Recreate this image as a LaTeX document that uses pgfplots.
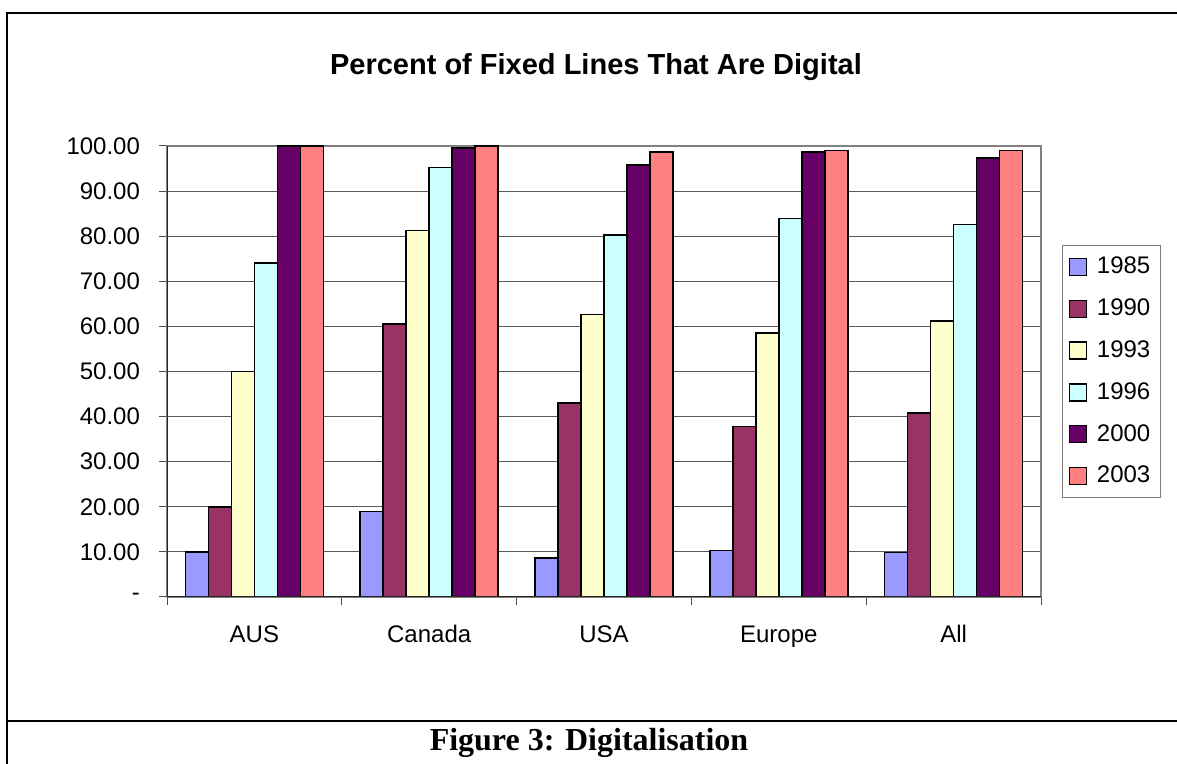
\documentclass[border=0pt]{standalone}
\usepackage{pgfplots}
\pgfplotsset{compat=1.18}
\usepackage{fontspec}
\setmainfont{Liberation Sans}
\newfontfamily\capfont{Liberation Serif}
\definecolor{c85}{HTML}{9999FF}
\definecolor{c90}{HTML}{993366}
\definecolor{c93}{HTML}{FFFFCC}
\definecolor{c96}{HTML}{CCFFFF}
\definecolor{c00}{HTML}{660066}
\definecolor{c03}{HTML}{FF8080}
\begin{document}
\begin{tikzpicture}[x=1pt,y=1pt]
\useasboundingbox (0,0) rectangle (588.5,382);
\draw[line width=1pt] (3.5,0) -- (3.5,375.5) -- (592,375.5);
\draw[line width=1pt] (3.5,21.5) -- (592,21.5);
\node[font=\capfont\bfseries\fontsize{16}{19}\selectfont] at (294.5,10.5) {Figure 3: Digitalisation};
\node[font=\bfseries\fontsize{14.5}{17}\selectfont] at (298,348.5) {Percent of Fixed Lines That Are Digital};
\begin{axis}[
  at={(83.5pt,83.5pt)}, anchor=south west,
  scale only axis, width=437pt, height=225.5pt,
  ybar=0pt, bar width=11.5pt,
  xmin=-0.5, xmax=4.5, ymin=0, ymax=100,
  enlargelimits=false,
  xtick={0,1,2,3,4},
  xticklabels={AUS,Canada,USA,Europe,All},
  minor xtick={-0.5,0.5,1.5,2.5,3.5,4.5},
  major x tick style={draw=none},
  ytick={0,10,...,100},
  yticklabels={-\hspace{13.5pt},10.00,20.00,30.00,40.00,50.00,60.00,70.00,80.00,90.00,100.00},
  tick align=outside, xtick pos=bottom, ytick pos=left,
  major tick length=4pt, minor tick length=4pt,
  tick style={black!70, line width=0.5pt},
  ymajorgrids,
  major grid style={black!65, line width=0.5pt},
  axis line style={black!50, line width=0.6pt},
  ticklabel style={font=\fontsize{12}{14}\selectfont},
  yticklabel style={xshift=-6pt},
  xticklabel style={text height=9pt, text depth=2.5pt, yshift=-6pt},
  every axis plot/.append style={draw=black, line width=0.8pt},
  legend image code/.code={\draw[#1,line width=0.7pt] (0pt,-4.25pt) rectangle (8.5pt,4.25pt);},
  legend style={at={(1,0.5)}, anchor=west, xshift=10.5pt, draw=black!50, line width=0.5pt,
    font=\fontsize{12}{14}\selectfont, row sep=7pt, inner xsep=3pt, inner ysep=4pt,
    /tikz/every odd column/.append style={column sep=3pt}},
  legend cell align=left,
]
\addplot[fill=c85] coordinates {(0,10) (1,19) (2,8.7) (3,10.3) (4,9.9)};
\addplot[fill=c90] coordinates {(0,20) (1,60.5) (2,43) (3,37.8) (4,40.8)};
\addplot[fill=c93] coordinates {(0,50) (1,81.3) (2,62.6) (3,58.6) (4,61.2)};
\addplot[fill=c96] coordinates {(0,74) (1,95.2) (2,80.3) (3,83.9) (4,82.6)};
\addplot[fill=c00] coordinates {(0,100) (1,99.6) (2,95.8) (3,98.7) (4,97.3)};
\addplot[fill=c03] coordinates {(0,100) (1,100) (2,98.7) (3,99) (4,99)};
\legend{1985,1990,1993,1996,2000,2003}
\draw[black!85, line width=0.6pt] (rel axis cs:0,1) -- (rel axis cs:0,0) -- (rel axis cs:1,0);
\end{axis}
\end{tikzpicture}
\end{document}
